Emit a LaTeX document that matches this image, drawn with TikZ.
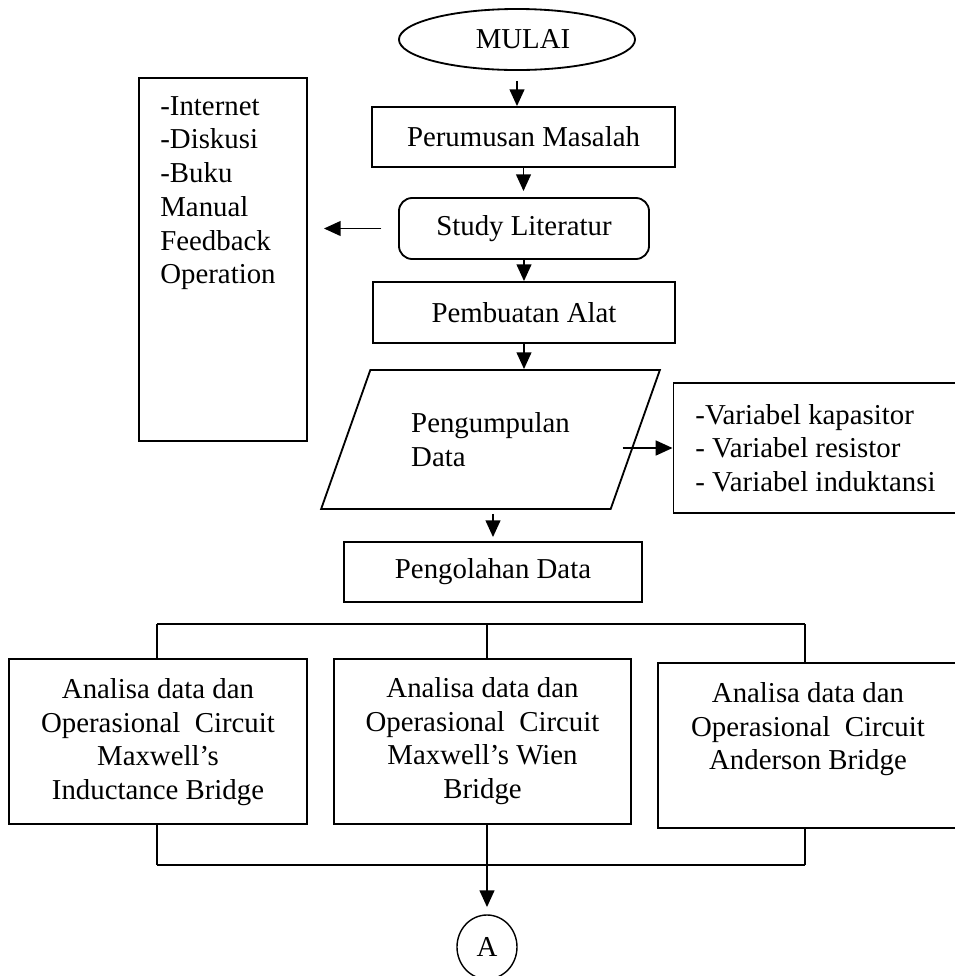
\documentclass[tikz,border=0pt]{standalone}
\usepackage{fontspec}
\setmainfont{Liberation Serif}
\usetikzlibrary{shapes.geometric, arrows.meta}
\colorlet{linecolor}{black}
\newcommand{\flowfont}{\fontsize{20.5pt}{24pt}\selectfont}
\tikzset{
    flowbox/.style={draw=linecolor, line width=1.3pt, inner sep=0pt, font=\flowfont, align=center},
    flowtext/.style={font=\flowfont, inner sep=0pt},
    arr/.style={draw=linecolor, line width=1.4pt, -{Triangle[length=0.42cm, width=0.37cm]}},
    bus/.style={draw=linecolor, line width=1pt},
}

\begin{document}
\begin{tikzpicture}[x=0.025cm, y=-0.025cm]
    \useasboundingbox (0,0) rectangle (955,976);
    % --- Main column ---
    \node[flowbox, ellipse, minimum width=5.9cm, minimum height=1.525cm] (mulai) at (517,39.5) {\hspace*{0.3cm}MULAI};
    \node[flowbox, rectangle, minimum width=7.575cm, minimum height=1.5cm] (perumusan) at (523.5,137) {Perumusan Masalah};
    \node[flowbox, rectangle, rounded corners=0.33cm, minimum width=6.25cm, minimum height=1.525cm] (study) at (524,228.5) {Study Literatur};
    \node[flowbox, rectangle, minimum width=7.55cm, minimum height=1.525cm] (pembuatan) at (524,312.5) {Pembuatan Alat};
    \node[flowbox, trapezium, trapezium left angle=59, trapezium right angle=121, trapezium stretches=true,
          minimum width=8.475cm, minimum height=3.475cm, align=left] (pengumpulan) at (490.5,439.5) {Pengumpulan\\Data};
    \node[flowbox, rectangle, minimum width=7.45cm, minimum height=1.5cm] (pengolahan) at (493,572) {Pengolahan Data};
    % --- Side boxes ---
    \node[flowbox, rectangle, minimum width=4.2cm, minimum height=9.075cm] (sumber) at (223,259.5) {};
    \node[flowtext, align=left, anchor=north west] (sumbertext) at ([shift={(22,19)}]sumber.north west)
        {-Internet\\-Diskusi\\-Buku\\Manual\\Feedback\\Operation};
    \node[flowbox, rectangle, minimum width=7.1cm, minimum height=3.25cm, align=left] (variabel) at (815.5,448)
        {-Variabel kapasitor\\- Variabel resistor\\- Variabel induktansi};
    % --- Three bridges ---
    \node[flowbox, rectangle, minimum width=7.45cm, minimum height=4.125cm] (induktansi) at (158,741.5) {};
    \node[flowbox, rectangle, minimum width=7.425cm, minimum height=4.125cm] (wien) at (482.5,741.5) {};
    \node[flowbox, rectangle, minimum width=7.5cm, minimum height=4.125cm] (anderson) at (808,745.5) {};
    \node[flowtext, align=center, anchor=north] (induktansitext) at ([shift={(0,20)}]induktansi.north)
        {Analisa data dan\\Operasional\ \ Circuit\\Maxwell’s\\Inductance Bridge};
    \node[flowtext, align=center, anchor=north] (wientext) at ([shift={(0,19)}]wien.north)
        {Analisa data dan\\Operasional\ \ Circuit\\Maxwell’s Wien\\Bridge};
    \node[flowtext, align=center, anchor=north] (andersontext) at ([shift={(0,20)}]anderson.north)
        {Analisa data dan\\Operasional\ \ Circuit\\Anderson Bridge};
    \node[flowbox, ellipse, line width=1pt, minimum width=1.5cm, minimum height=1.6cm] (akhir) at (487,947) {A};
    % --- Connectors ---
    \draw[arr, shorten <=0.25cm] (mulai.south) -- (mulai.south |- perumusan.north);
    \draw[arr, shorten >=0.15cm] (perumusan.south) -- (perumusan.south |- study.north);
    \draw[arr] (study.south) -- (study.south |- pembuatan.north);
    \draw[arr] (pembuatan.south) -- (pembuatan.south |- pengumpulan.north);
    \draw[arr, shorten <=0.1cm, shorten >=0.1cm] (pengumpulan.south -| pengolahan.north) -- (pengolahan.north);
    \draw[arr] ([xshift=-1.25cm]variabel.west) -- (variabel.west);
    \draw[arr, shorten <=0.42cm, shorten >=0.4cm] (study.west) -- (study.west -| sumber.east);
    \coordinate (busL) at (157,624);
    \coordinate (busM) at (487,624);
    \coordinate (busR) at (805,624);
    \coordinate (joinL) at (157,865);
    \coordinate (joinM) at (487,865);
    \coordinate (joinR) at (805,865);
    \draw[bus, line width=1.4pt] (busL) -- (busR);
    \draw[bus] (busL) -- (busL |- induktansi.north);
    \draw[bus] (busM) -- (busM |- wien.north);
    \draw[bus] (busR) -- (busR |- anderson.north);
    \draw[bus] (joinL |- induktansi.south) -- (joinL);
    \draw[bus] (joinM |- wien.south) -- (joinM);
    \draw[bus] (joinR |- anderson.south) -- (joinR);
    \draw[bus, line width=1.4pt] (joinL) -- (joinR);
    \draw[arr, shorten >=0.18cm] (joinM) -- (akhir.north);
\end{tikzpicture}
\end{document}
